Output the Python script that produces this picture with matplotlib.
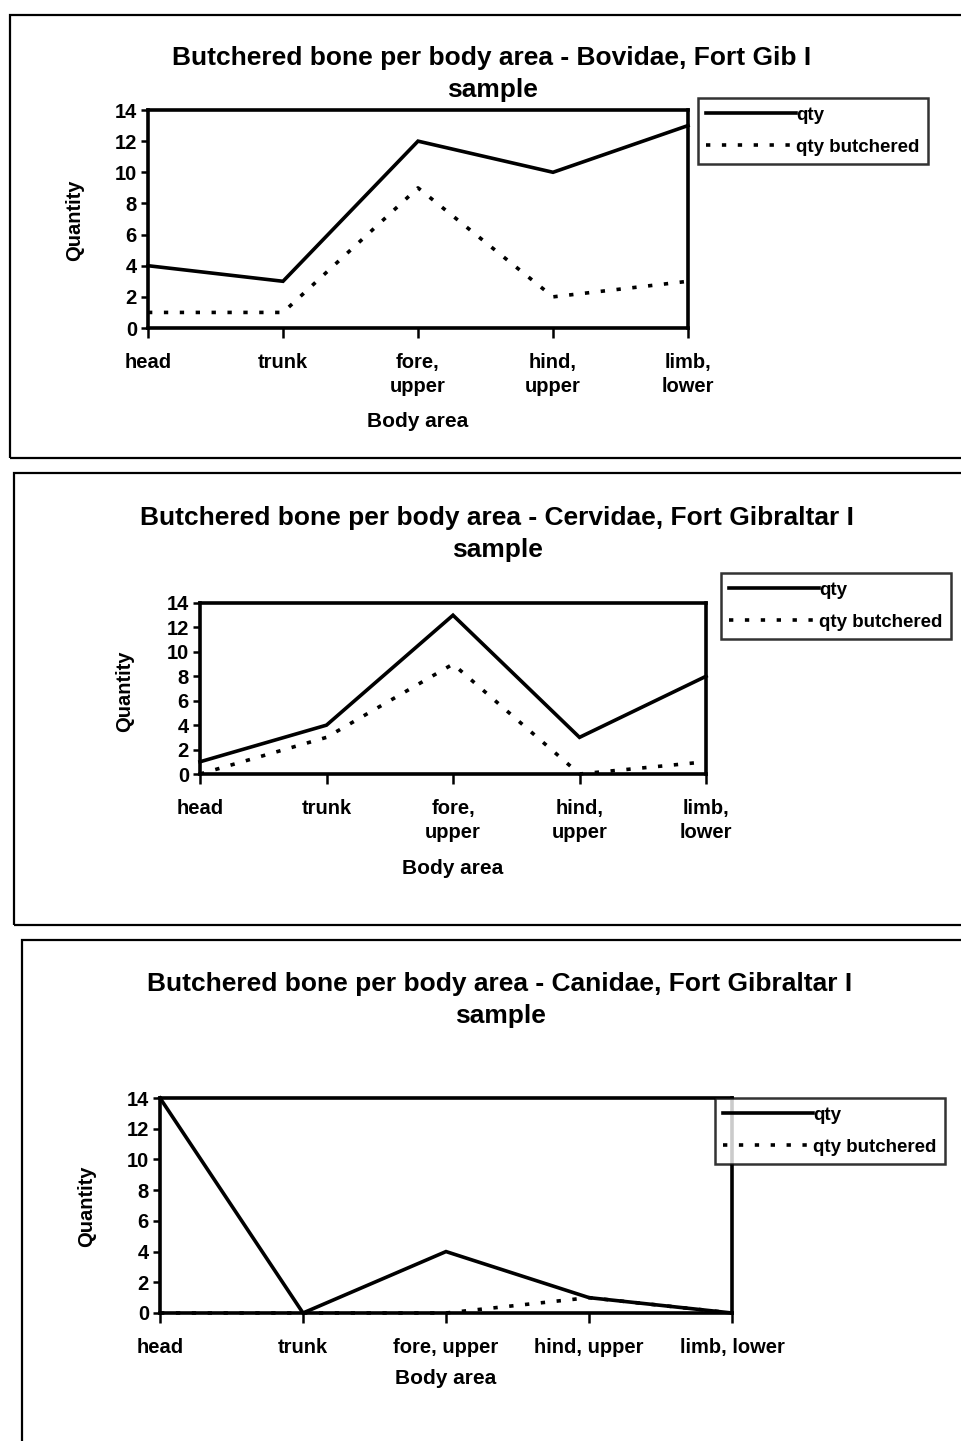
import numpy as np
import matplotlib
matplotlib.use("Agg")
import matplotlib.pyplot as plt
from matplotlib.patches import Rectangle

plt.rcParams['font.family'] = ['Liberation Sans', 'DejaVu Sans']

W, H = 961, 1441

# data
areas_two_line = ['head', 'trunk', 'fore,\nupper', 'hind,\nupper', 'limb,\nlower']
areas_one_line = ['head', 'trunk', 'fore, upper', 'hind, upper', 'limb, lower']

bov_qty = [4, 3, 12, 10, 13]
bov_butch = [1, 1, 9, 2, 3]
cer_qty = [1, 4, 13, 3, 8]
cer_butch = [0, 3, 9, 0, 1]
can_qty = [14, 0, 4, 1, 0]
can_butch = [0, 0, 0, 1, 0]

titles = ['Butchered bone per body area - Bovidae, Fort Gib I\nsample',
          'Butchered bone per body area - Cervidae, Fort Gibraltar I\nsample',
          'Butchered bone per body area - Canidae, Fort Gibraltar I\nsample']


def fx(x):
    return x / W


def fy(y):
    return 1 - y / H


fig = plt.figure(figsize=(W / 100, H / 100), dpi=100)

# panel layout in pixels: outer box, axes box, title centre, legend corner, label spots
panels = [
    dict(box=(10, 15, 1000, 458), ax=(148, 110, 688, 328), title=(492, 74),
         leg=(698, 98), ylab=(75, 220), xlab=(418, 421),
         qty=bov_qty, butch=bov_butch, labels=areas_two_line, title_txt=titles[0]),
    dict(box=(14, 473, 1000, 925), ax=(200, 603, 706, 774), title=(497, 534),
         leg=(721, 573), ylab=(125, 691), xlab=(453, 869),
         qty=cer_qty, butch=cer_butch, labels=areas_two_line, title_txt=titles[1]),
    dict(box=(22, 940, 1000, 1460), ax=(160, 1098, 732, 1313), title=(500, 1000),
         leg=(715, 1098), ylab=(87, 1206), xlab=(446, 1378),
         qty=can_qty, butch=can_butch, labels=areas_one_line, title_txt=titles[2]),
]

for p in panels:
    x0, y0, x1, y1 = p['box']
    fig.patches.append(Rectangle((fx(x0), fy(y1)), fx(x1 - x0), (y1 - y0) / H,
                                 transform=fig.transFigure, fill=False,
                                 edgecolor='black', linewidth=1.6))

    ax0, ay0, ax1, ay1 = p['ax']
    ax = fig.add_axes([fx(ax0), fy(ay1), fx(ax1 - ax0), (ay1 - ay0) / H])
    xs = np.arange(len(p['qty']))
    l1, = ax.plot(xs, p['qty'], color='black', lw=2.6, clip_on=False,
                  solid_joinstyle='miter')
    l2, = ax.plot(xs, p['butch'], color='black', lw=2.6, clip_on=False,
                  linestyle=(0, (1.2, 3.2)))
    ax.set_xlim(0, 4)
    ax.set_ylim(0, 14)
    ax.set_yticks(range(0, 15, 2))
    ax.set_xticks(xs)
    ax.set_xticklabels(p['labels'], fontsize=14.5, fontweight='bold', linespacing=1.3)
    for t in ax.get_yticklabels():
        t.set_fontsize(14.5)
        t.set_fontweight('bold')
    ax.tick_params(axis='x', direction='out', length=7, width=1.8, pad=11)
    ax.tick_params(axis='y', direction='out', length=5, width=1.8, pad=3)
    for s in ax.spines.values():
        s.set_linewidth(2.6)

    fig.text(fx(p['title'][0]), fy(p['title'][1]), p['title_txt'], ha='center',
             va='center', fontsize=19, fontweight='bold', linespacing=1.4)
    fig.text(fx(p['ylab'][0]), fy(p['ylab'][1]), 'Quantity', rotation=90,
             ha='center', va='center', fontsize=14.5, fontweight='bold')
    fig.text(fx(p['xlab'][0]), fy(p['xlab'][1]), 'Body area', ha='center',
             va='center', fontsize=15, fontweight='bold')

    leg = fig.legend([l1, l2], ['qty', 'qty butchered'], loc='upper left',
                     bbox_to_anchor=(fx(p['leg'][0]), fy(p['leg'][1])),
                     bbox_transform=fig.transFigure, borderaxespad=0,
                     handlelength=4.8, handletextpad=0.0, fancybox=False,
                     prop=dict(size=13.5, weight='bold'), borderpad=0.45,
                     labelspacing=0.8)
    leg.get_frame().set_edgecolor('black')
    leg.get_frame().set_linewidth(1.8)

fig.savefig('out.png', dpi=100)
